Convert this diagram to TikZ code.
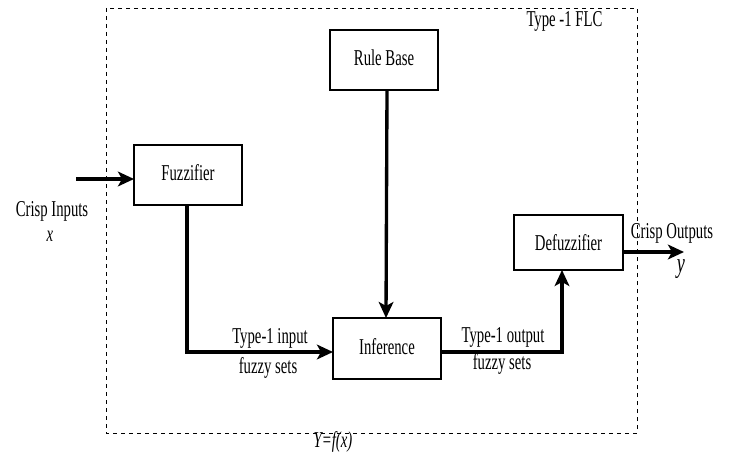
\documentclass[tikz,border=0pt]{standalone}
\usepackage{fontspec}
\setmainfont{Liberation Serif}[FakeStretch=0.65]
\usetikzlibrary{arrows.meta}
\begin{document}
\begin{tikzpicture}[x=0.75pt,y=-0.75pt,
  block/.style={draw,line width=1.8pt},
  flow/.style={line width=2.5pt,-{Stealth[length=12pt,width=11pt,inset=3pt]}},
  lbl/.style={font=\fontsize{17}{19}\selectfont,inner sep=1pt}]
\useasboundingbox (0,0) rectangle (739,460);
% enclosing controller frame
\draw[dashed,line width=0.7pt] (106,8) rectangle (637,433);
\node[lbl,anchor=north east] (flc) at (604,10) {Type -1 FLC};
% blocks
\draw[block] (330,30) rectangle (438,90);
\node[lbl] (rb) at (384,58) {Rule Base};
\coordinate (rbS) at (387,90);
\draw[block] (134,145) rectangle (242,205);
\node[lbl] (fz) at (188,173) {Fuzzifier};
\coordinate (fzW) at (134,179);
\coordinate (fzS) at (187,205);
\draw[block] (333,318) rectangle (441,379);
\node[lbl] (inf) at (387,346.5) {Inference};
\coordinate (infN) at (386,318);
\coordinate (infW) at (333,352);
\coordinate (infE) at (441,352);
\draw[block] (514,215) rectangle (623,270);
\node[lbl] (dfz) at (568.5,243) {Defuzzifier};
\coordinate (dfzS) at (562,270);
\coordinate (dfzE) at (623,252);
% external ends
\coordinate (xin) at (76,179);
\coordinate (yout) at (684,252);
% connectors
\draw[flow] (xin) -- (fzW);
\draw[flow] (rbS) -- (infN);
\draw[flow] (fzS) |- (infW);
\draw[flow,line width=3pt] (infE) -| (dfzS);
\draw[flow] (dfzE) -- (yout);
% labels
\node[lbl] (ci) at (52,211) {Crisp Inputs};
\node[lbl] (cix) at (50,236) {\textit{x}};
\node[lbl] (t1i) at (270,338) {Type-1 input};
\node[lbl] (fsi) at (268,368) {fuzzy sets};
\node[lbl] (t1o) at (503,337) {Type-1 output};
\node[lbl] (fso) at (502,364) {fuzzy sets};
\node[lbl] (co) at (672,233) {Crisp Outputs};
\node[lbl] (coy) at (681,269) {\fontsize{21}{23}\selectfont\textit{y}};
\node[lbl] (yfx) at (333,442) {\textit{Y=f(x)}};
\end{tikzpicture}
\end{document}
